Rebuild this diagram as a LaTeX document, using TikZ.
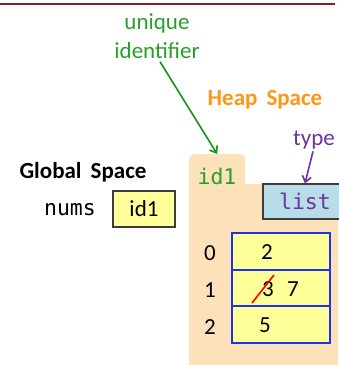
\documentclass[tikz,border=0pt]{standalone}
\usepackage{fontspec}
\setmainfont{Carlito}
\setmonofont{DejaVu Sans Mono}
\usetikzlibrary{calc,arrows.meta}
\definecolor{peach}{RGB}{252,225,187}
\definecolor{cellyellow}{RGB}{255,255,153}
\definecolor{listblue}{RGB}{183,222,232}
\definecolor{gtext}{RGB}{40,160,40}
\definecolor{garrowc}{RGB}{20,150,20}
\definecolor{purp}{RGB}{112,48,160}
\definecolor{orng}{RGB}{255,150,20}
\definecolor{cellblue}{RGB}{30,50,230}
\definecolor{darkred}{RGB}{140,30,30}
\definecolor{frame}{RGB}{60,60,60}
\begin{document}
\begin{tikzpicture}[x=1pt,y=-1pt,
  txt/.style={inner sep=0pt,font=\fontsize{23}{29}\selectfont},
  mono/.style={inner sep=0pt,font=\fontsize{21.5}{26}\selectfont\ttfamily},
  ybox/.style={draw=frame,line width=1.1pt,fill=cellyellow,minimum width=62pt,minimum height=36pt,inner sep=0pt,font=\fontsize{23}{29}\selectfont},
  cell/.style={draw=cellblue,line width=2.2pt,fill=cellyellow,minimum width=98pt,minimum height=36.5pt,inner sep=0pt},
  garrow/.style={draw=garrowc,line width=1.6pt,-{Straight Barb[length=6pt,width=9pt]}},
  parrow/.style={draw=purp,line width=1.6pt,-{Straight Barb[length=6pt,width=9pt]}}
]
\useasboundingbox (0,0) rectangle (339,365);
\draw[darkred,line width=2pt] (0,4) -- (335,4);
% heap folder
\node[fill=peach,rounded corners=5pt,minimum width=56pt,minimum height=40pt,inner sep=0pt,anchor=north west] (tab) at (189,154) {};
\fill[peach] (189,184) rectangle (338,365);
\node[mono,text=gtext] (tabid) at (217,176) {id1};
\node[txt,align=center,text=gtext] (uid) at (157,36) {unique\\identifier};
\node[txt,text=orng,font=\fontsize{23}{29}\selectfont\bfseries] (heap) at (265,100) {Heap\,\ Space};
\node[txt,text=purp] (type) at (314,140) {type};
\node[draw=frame,line width=1.1pt,fill=listblue,minimum width=84pt,minimum height=35pt,inner sep=0pt,mono,text=purp] (list) at (305,201.5) {list};
\draw[garrow] ([xshift=3pt,yshift=-3pt]uid.south) -- (tab.north);
\draw[parrow] ([xshift=-1pt,yshift=-2pt]type.south) -- (list.north);
% global space
\node[txt,font=\fontsize{23}{29}\selectfont\bfseries] (global) at (83,172) {Global\,\ Space};
\node[mono] (nums) at (70,210) {nums};
\node[ybox] (numsval) at (144,209) {id1};
% list cells
\node[cell] (c0) at (281,251.5) {};
\node[cell] (c1) at (281,288) {};
\node[cell] (c2) at (281,324.5) {};
\node[txt] (i0) at (210,253) {0};
\node[txt] (i1) at (210,290) {1};
\node[txt] (i2) at (210,327) {2};
\node[txt] (v0) at (267,252) {2};
\node[txt] (v1) at (268,289) {3};
\node[txt] (v1b) at (293,289) {7};
\node[txt] (v2) at (265,325) {5};
\draw[red,line width=1.6pt] ($(v1)+(-16,14)$) -- ($(v1)+(6,-14)$);
\end{tikzpicture}
\end{document}
